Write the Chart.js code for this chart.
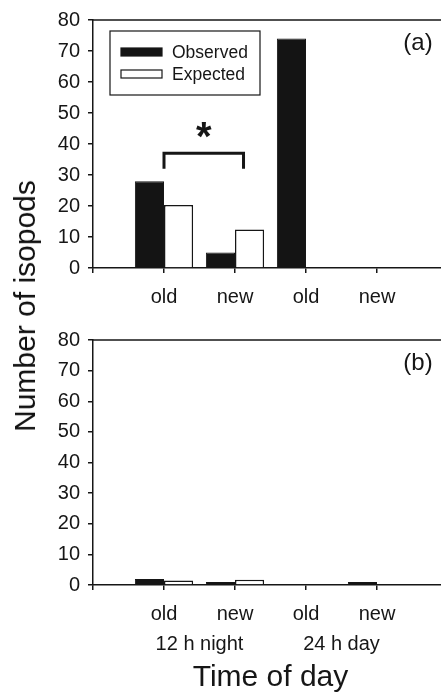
<!DOCTYPE html>
<html>
<head>
<meta charset="utf-8">
<script src="https://cdn.jsdelivr.net/npm/chart.js@4.4.1/dist/chart.umd.min.js"></script>
<style>
  html, body { margin: 0; padding: 0; background: #fff; overflow: hidden; width: 441px; height: 696px; }
  #wrap { position: relative; width: 441px; height: 696px; overflow: hidden; }
  canvas { position: absolute; left: 0; }
  #ca { top: 0; }
  #cb { top: 320px; }
  #ytitle {
    position: absolute; left: 25px; top: 306px;
    transform: translate(-50%, -50%) rotate(-90deg);
    font: 30px "Liberation Sans", Arial, sans-serif;
    white-space: nowrap; color: #111;
  }
</style>
</head>
<body>
<div id="wrap">
  <canvas id="ca" width="470" height="320"></canvas>
  <canvas id="cb" width="470" height="376"></canvas>
  <div id="ytitle">Number of isopods</div>
</div>
<script>
// data
const categories = ['', 'old', 'new', 'old', 'new', ''];
const groups = ['12 h night', '24 h day'];
const seriesNames = ['Observed', 'Expected'];
const observedA = [null, 28, 5, 74, 0, null];
const expectedA = [null, 20.3, 12.4, 0, 0, null];
const observedB = [null, 2, 1, 0, 1, null];
const expectedB = [null, 1.5, 1.7, 0, 0, null];
const yMax = 80;
const yStep = 10;
// significance bracket in panel (a): between old and new of 12 h night
const bracketFrom = 1, bracketTo = 2.12, bracketTop = 37, bracketLeg = 32;

const INK = '#161616';
const FONT = '"Liberation Sans", Arial, sans-serif';
Chart.defaults.font.family = FONT;
Chart.defaults.color = INK;

const decor = {
  id: 'decor',
  afterDraw(chart, args, o) {
    const { ctx, chartArea: a, scales: { x, y } } = chart;
    ctx.save();
    ctx.strokeStyle = INK;
    ctx.fillStyle = INK;
    // top frame
    ctx.lineWidth = 1.5;
    ctx.beginPath();
    ctx.moveTo(a.left, a.top);
    ctx.lineTo(a.right, a.top);
    ctx.stroke();
    // panel tag
    ctx.font = '24px ' + FONT;
    ctx.textAlign = 'center';
    ctx.textBaseline = 'middle';
    ctx.fillText(o.tag, a.right - 30, a.top + 23);

    if (o.legend) {
      const bx = a.left + 17, by = a.top + 11;
      ctx.lineWidth = 1.2;
      ctx.strokeRect(bx, by, 150, 64);
      ctx.font = '17.5px ' + FONT;
      ctx.textAlign = 'left';
      chart.data.datasets.forEach((ds, i) => {
        const sy = by + 17 + i * 22;
        ctx.fillStyle = ds.backgroundColor;
        ctx.fillRect(bx + 11, sy, 41, 8);
        ctx.lineWidth = 1.2;
        ctx.strokeRect(bx + 11, sy, 41, 8);
        ctx.fillStyle = INK;
        ctx.fillText(ds.label, bx + 62, sy + 5);
      });
    }

    if (o.bracket) {
      const x1 = x.getPixelForValue(bracketFrom);
      const x2 = x.getPixelForValue(bracketTo);
      const yt = y.getPixelForValue(bracketTop);
      const yl = y.getPixelForValue(bracketLeg);
      ctx.lineWidth = 3;
      ctx.beginPath();
      ctx.moveTo(x1, yl);
      ctx.lineTo(x1, yt);
      ctx.lineTo(x2, yt);
      ctx.lineTo(x2, yl);
      ctx.stroke();
      ctx.font = 'bold 40px ' + FONT;
      ctx.textAlign = 'center';
      ctx.textBaseline = 'alphabetic';
      ctx.fillText('*', (x1 + x2) / 2, yt - 3);
    }
    ctx.restore();
  }
};

function axisLine() {
  return { display: true, color: INK, width: 1.5 };
}

function makePanel(id, observed, expected, opts) {
  const scales = {
    x: {
      type: 'category',
      offset: false,
      grid: { display: true, offset: false, drawOnChartArea: false, drawTicks: true, tickLength: 5, color: INK, lineWidth: 1.5 },
      border: axisLine(),
      ticks: { color: INK, font: { size: 20 }, padding: 12, maxRotation: 0, autoSkip: false },
      afterFit: s => { s.height = opts.xHeight; }
    },
    y: {
      min: 0, max: yMax,
      grid: { display: true, drawOnChartArea: false, drawTicks: true, tickLength: 5, color: INK, lineWidth: 1.5 },
      border: axisLine(),
      ticks: { stepSize: yStep, color: INK, font: { size: 20 }, padding: 8 },
      afterFit: s => { s.width = 93; }
    }
  };
  if (opts.groups) {
    scales.x2 = {
      type: 'linear',
      position: 'bottom',
      offset: false,
      min: 0, max: categories.length - 1,
      grid: { display: false },
      border: { display: false },
      afterBuildTicks: s => { s.ticks = groups.map((g, i) => ({ value: 2 * i + 1.5 })); },
      ticks: { color: INK, font: { size: 20 }, padding: 3, maxRotation: 0, autoSkip: false, callback: (v, i) => groups[i] },
      title: { display: true, text: 'Time of day', color: INK, font: { size: 30 }, padding: { top: 0, bottom: 0 } },
      afterFit: s => { s.height = opts.x2Height; }
    };
  }
  return new Chart(document.getElementById(id), {
    type: 'bar',
    data: {
      labels: categories,
      datasets: [
        { label: seriesNames[0], data: observed, backgroundColor: '#141414', borderColor: INK, borderWidth: 1 },
        { label: seriesNames[1], data: expected, backgroundColor: '#ffffff', borderColor: INK, borderWidth: 1.5 }
      ]
    },
    options: {
      responsive: false,
      animation: false,
      layout: { padding: { top: opts.top, right: 22, left: 0, bottom: 0 } },
      datasets: { bar: { categoryPercentage: 0.82, barPercentage: 1.0 } },
      scales,
      plugins: {
        legend: { display: false },
        tooltip: { enabled: false },
        decor: { tag: opts.tag, legend: opts.legend, bracket: opts.bracket }
      }
    },
    plugins: [decor]
  });
}

makePanel('ca', observedA, expectedA, { tag: '(a)', legend: true, bracket: true, top: 17, xHeight: 52 });
makePanel('cb', observedB, expectedB, { tag: '(b)', legend: false, bracket: false, top: 15, xHeight: 36, x2Height: 75, groups: true });
</script>
</body>
</html>
